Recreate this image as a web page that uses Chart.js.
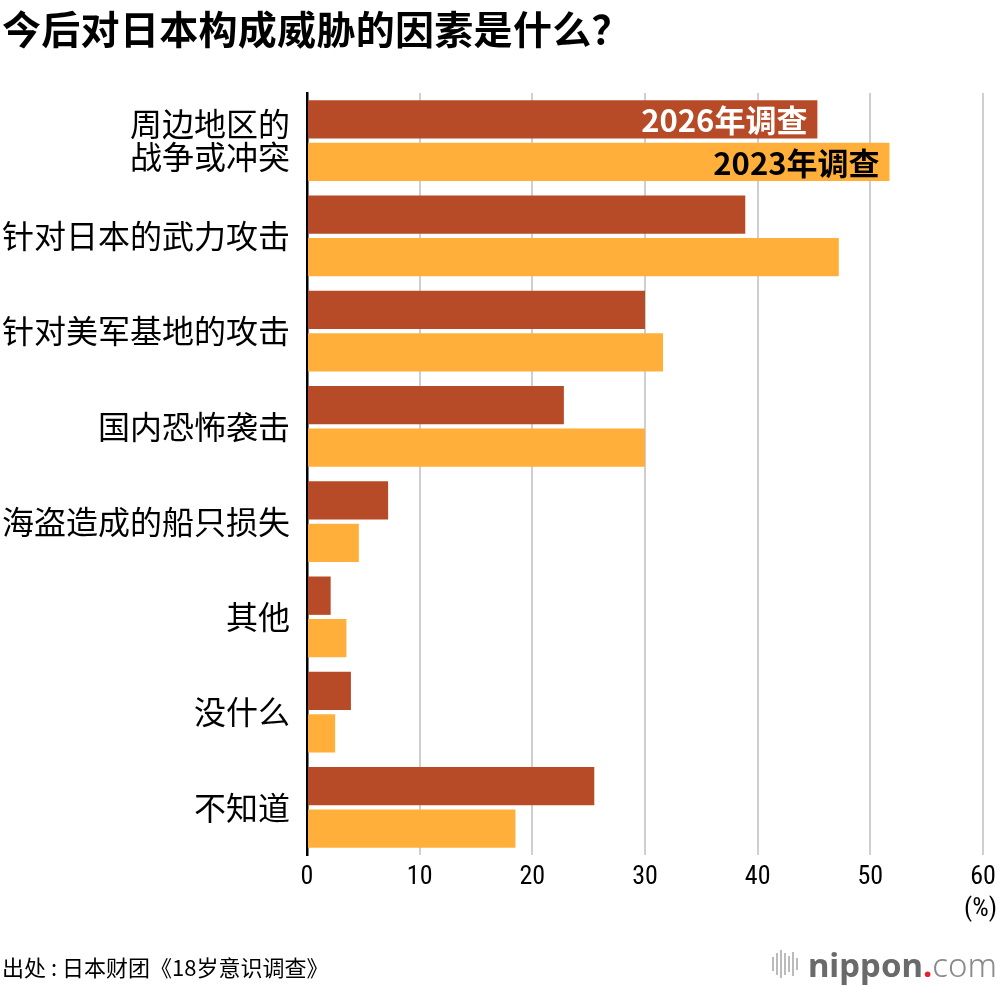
<!DOCTYPE html>
<html>
<head>
<meta charset="utf-8">
<script src="https://cdn.jsdelivr.net/npm/chart.js@4.4.1/dist/chart.umd.min.js"></script>
<style>
  html, body { margin:0; padding:0; background:#fff; }
  body { width:1000px; height:986px; position:relative; overflow:hidden; font-family:"Noto Sans CJK SC","Noto Sans",sans-serif; }
  #title { position:absolute; left:2px; top:3px; font-size:39px; font-weight:700; color:#000; line-height:48px; white-space:nowrap; letter-spacing:0.3px; }
  #wrap { position:absolute; left:0; top:0; width:1000px; height:986px; }
  #unit { position:absolute; right:3px; top:891px; font-family:"Liberation Sans Narrow","Roboto Condensed","Liberation Sans",sans-serif; font-size:26px; color:#000; line-height:32px; }
  #source { position:absolute; left:2px; top:952px; font-size:22px; color:#000; line-height:29px; white-space:nowrap; }
  #source .colon { display:inline-block; width:12px; text-align:center; margin:0 2px; }
  #logo { position:absolute; right:3px; top:943px; height:42px; display:flex; align-items:center; white-space:nowrap; font-family:"Noto Sans","Open Sans",sans-serif; }
  #logo .ic { display:flex; align-items:center; gap:2px; margin-right:10px; }
  #logo .ic span { display:block; width:2px; background:#bbb; }
  #logo .n { font-size:33px; font-weight:700; color:#6a6a6a; }
  #logo .d { font-size:33px; font-weight:700; color:#e8202a; }
  #logo .c { font-size:33px; font-weight:300; color:#8a8a8a; }
</style>
</head>
<body>
<div id="wrap"><canvas id="c" width="1000" height="986"></canvas></div>
<div id="title">今后对日本构成威胁的因素是什么？</div>
<div id="unit">(%)</div>
<div id="source">出处<span class="colon">:</span>日本财团《18岁意识调查》</div>
<div id="logo"><div class="ic"><span style="height:14px"></span><span style="height:22px"></span><span style="height:28px"></span><span style="height:22px"></span><span style="height:16px"></span><span style="height:24px"></span><span style="height:12px"></span></div><span class="n">nippon</span><span class="d">.</span><span class="c">com</span></div>
<script>
const categories = [
  ["周边地区的", "战争或冲突"],
  "针对日本的武力攻击",
  "针对美军基地的攻击",
  "国内恐怖袭击",
  "海盗造成的船只损失",
  "其他",
  "没什么",
  "不知道"
];
const seriesNames = ["2026年调查", "2023年调查"];
const values2026 = [45.3, 38.9, 30.0, 22.8, 7.2, 2.1, 3.9, 25.5];
const values2023 = [51.7, 47.2, 31.6, 30.0, 4.6, 3.5, 2.5, 18.5];
const xTicks = [0, 10, 20, 30, 40, 50, 60];

const colors = ["#B84B27", "#FFAF3A"];
const textColors = ["#ffffff", "#000000"];

const inBarLegend = {
  id: "inBarLegend",
  afterDatasetsDraw(chart) {
    const ctx = chart.ctx;
    ctx.save();
    chart.data.datasets.forEach((ds, i) => {
      const el = chart.getDatasetMeta(i).data[0];
      ctx.font = "700 31px 'Noto Sans CJK SC', sans-serif";
      ctx.fillStyle = textColors[i];
      ctx.textAlign = "right";
      ctx.textBaseline = "middle";
      ctx.fillText(ds.label, el.x - 10, el.y + 1);
    });
    ctx.restore();
  }
};

new Chart(document.getElementById("c"), {
  type: "bar",
  data: {
    labels: categories,
    datasets: [
      { label: seriesNames[0], data: values2026, backgroundColor: colors[0] },
      { label: seriesNames[1], data: values2023, backgroundColor: colors[1] }
    ]
  },
  options: {
    indexAxis: "y",
    responsive: false,
    animation: false,
    devicePixelRatio: 1,
    categoryPercentage: 0.89,
    barPercentage: 0.905,
    layout: { padding: { left: 0, right: 17, top: 93, bottom: 91 } },
    plugins: { legend: { display: false }, tooltip: { enabled: false }, title: { display: false } },
    scales: {
      x: {
        min: 0, max: 60,
        afterBuildTicks(scale) { scale.ticks = xTicks.map(v => ({ value: v })); },
        afterFit(scale) { scale.height = 40; scale.paddingRight = 0; scale.paddingLeft = 0; },
        grid: {
          color: ctx => (ctx.tick && ctx.tick.value === 0) ? "rgba(0,0,0,0)" : "#cfcfcf",
          lineWidth: 2,
          drawTicks: false
        },
        border: { display: false },
        ticks: {
          padding: 7,
          color: "#000",
          font: { family: "'Liberation Sans Narrow','Roboto Condensed','Liberation Sans',sans-serif", size: 26 },
          maxRotation: 0
        }
      },
      y: {
        afterFit(scale) { scale.width = 307; },
        grid: { display: false, drawTicks: false },
        border: { display: true, color: "#000", width: 2.5 },
        ticks: {
          padding: 17,
          color: "#000",
          font: { family: "'Noto Sans CJK SC', sans-serif", size: 32, lineHeight: 1.04 }
        }
      }
    }
  },
  plugins: [inBarLegend]
});
</script>
</body>
</html>
